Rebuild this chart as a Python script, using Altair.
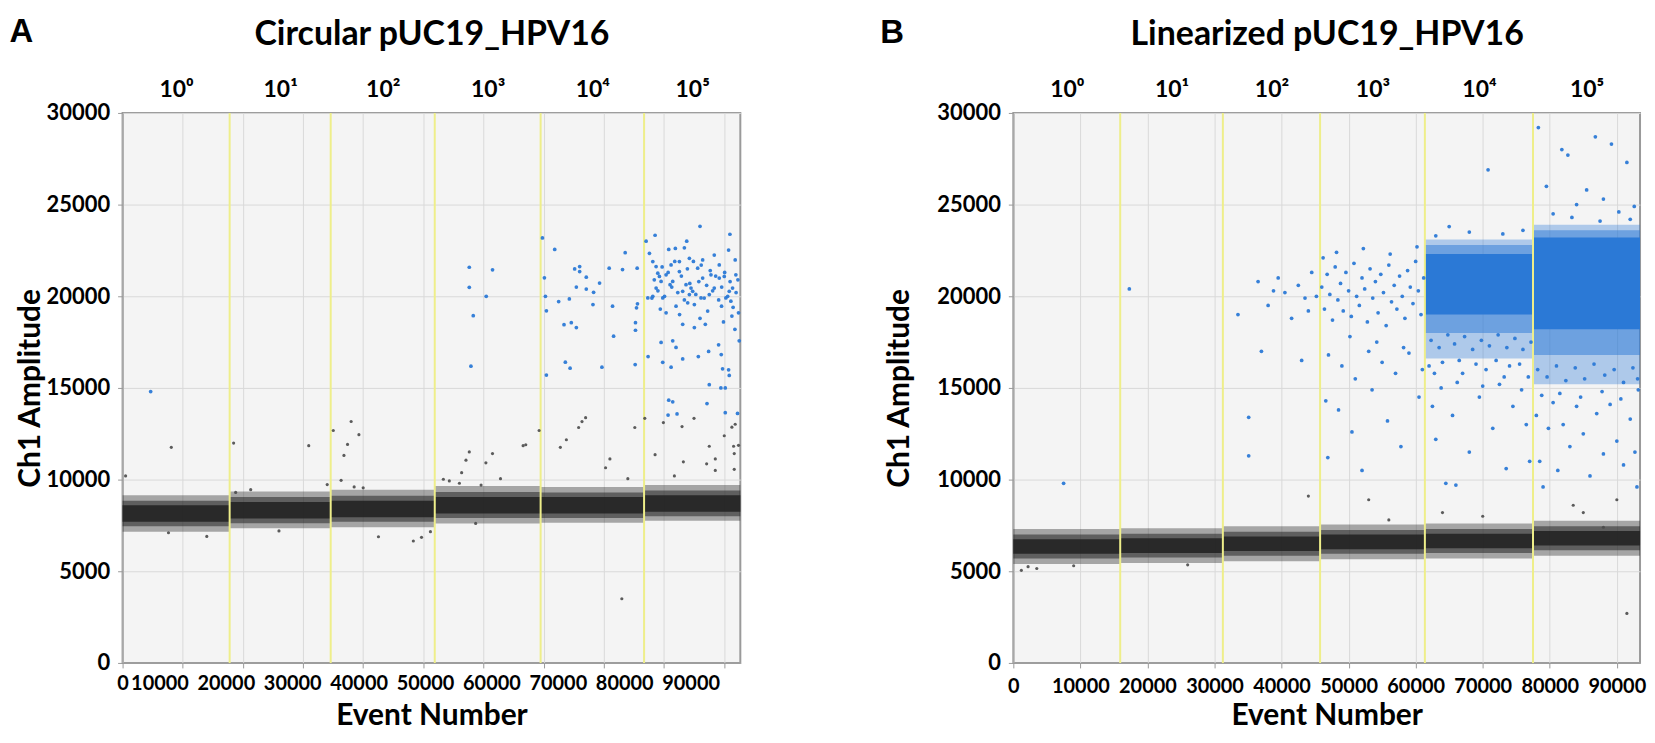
import altair as alt
import pandas as pd

FONT = "Lato"
LETTER_FONT = "Liberation Sans"
TOP_LABELS = ["10\u2070", "10\u00b9", "10\u00b2", "10\u00b3", "10\u2074", "10\u2075"]
Y_TICKS = [0, 5000, 10000, 15000, 20000, 25000, 30000]

# ---------------- Panel A : circular pUC19_HPV16 ----------------
A_WELL_BOUNDS = [0, 17800, 34600, 51900, 69500, 86700, 102700]
A_X_MAX = 102700
A_TOP_POS = [8900, 26200, 43250, 60700, 78100, 94700]
A_BOTTOM_LABELS = [10000, 20000, 30000, 40000, 50000, 60000, 70000, 80000, 90000]
A_BOTTOM_LABEL_DOMAIN = [4448, 97488]
A_NEG_HALO_LO = [7150, 7350, 7400, 7600, 7650, 7750]
A_NEG_HALO_HI = [9150, 9350, 9450, 9650, 9600, 9700]
A_NEG_MID_LO = [7450, 7620, 7700, 7900, 7900, 8000]
A_NEG_MID_HI = [8850, 9050, 9120, 9320, 9300, 9400]
A_NEG_CORE_LO = [7700, 7880, 7950, 8150, 8150, 8250]
A_NEG_CORE_HI = [8600, 8780, 8850, 9050, 9050, 9150]
A_GRAY = [
    (500, 10200), (8100, 11760), (7630, 7100), (18460, 11990), (30950, 11850),
    (35030, 12680), (38000, 13170), (39290, 12450), (37400, 11920), (36800, 11320),
    (36330, 9960), (34020, 9730), (42540, 6880), (48340, 6650), (49700, 6850),
    (51180, 7160), (58700, 7610), (18800, 9300), (21300, 9450), (38500, 9600),
    (40000, 9550), (14000, 6900), (26000, 7200), (56000, 9800), (59600, 9700),
    (57640, 11510), (57090, 11060), (56370, 10380), (53330, 10020), (54320, 9930),
    (60400, 10915), (61500, 11420), (62830, 10050), (66590, 11850), (67030, 11900),
    (69250, 12680), (72780, 11760), (73780, 12175), (75820, 12840), (76380, 13165),
    (76980, 13380), (80300, 10645), (81020, 11130), (84000, 10050), (85160, 12840),
    (86820, 13340), (88530, 11360), (89910, 13110), (93010, 12890), (93230, 10970),
    (91740, 10200), (95000, 13340), (97540, 11820), (97100, 10860), (98540, 11130),
    (98540, 10500), (100030, 12390), (101300, 12860), (101850, 13020), (101580, 11820),
    (101690, 11420), (101690, 10560), (102400, 11870), (83000, 3500),
]
A_BLUE = [
    (4670, 14800),
    (57640, 21583), (57640, 20486), (58300, 18939), (57915, 16186), (60457, 20000),
    (61507, 21440), (69800, 23185), (71842, 22555), (70130, 21008), (70300, 20000),
    (70460, 19209), (70460, 15700), (72500, 19712), (73390, 18453), (74275, 19856),
    (74600, 18561), (75440, 18291), (73610, 16402), (74400, 16078), (75160, 21494),
    (75990, 21620), (75990, 21350), (75440, 20504), (77090, 21044), (77090, 20396),
    (78310, 20216), (78200, 19550), (79300, 20720), (79690, 16133), (80900, 21530),
    (81460, 19460), (81630, 17824), (83120, 21458), (83560, 22375), (85550, 21530),
    (85220, 16276), (85270, 18561), (85270, 18147), (85440, 19370), (85600, 19587),
    (87040, 23005), (88530, 23328), (87370, 16708), (96000, 23814), (100970, 23383),
    (93790, 23005), (90800, 22555), (91900, 22609), (93400, 22645), (98370, 22249),
    (100750, 22519), (101850, 21980), (88700, 21620), (89250, 21080), (90360, 21170),
    (91460, 20810), (92570, 21350), (93670, 20630), (94500, 20450), (94780, 20270),
    (95610, 21530), (96440, 20990), (97540, 20090), (98370, 20450), (99200, 20990),
    (100300, 19910), (101130, 19730), (101410, 20450), (101960, 21170), (102400, 19100),
    (88700, 20450), (89800, 19910), (90360, 19100), (92010, 19460), (93120, 18470),
    (95060, 18290), (96880, 18470), (99580, 19460), (101300, 18920), (91460, 17570),
    (89530, 17480), (92010, 17210), (93120, 16580), (91190, 16130), (89800, 16400),
    (95720, 16710), (97430, 16990), (99090, 17350), (99530, 16820), (99750, 16040),
    (100750, 15990), (100860, 15680), (97540, 15180), (99470, 15000), (100200, 15000),
    (97160, 14150), (90800, 14330), (91460, 14240), (90690, 13520), (92180, 13580),
    (100200, 13650), (102240, 13610), (102520, 17570), (100860, 20270), (87590, 22340),
    (88150, 21890), (88980, 21260), (89530, 20810), (91020, 20630), (93120, 20270),
    (94230, 20090), (96160, 19910), (97820, 21170), (99200, 21710), (100030, 21080),
    (96440, 21980), (94230, 22070), (92570, 21890), (91190, 21710), (87320, 19910),
    (88150, 20000), (97270, 19190), (93950, 19640), (95060, 19550),
    (88400, 20900), (89000, 20300), (89700, 21600), (90100, 20000), (90700, 21300),
    (91300, 20500), (91800, 21900), (92300, 20200), (92900, 21100), (93400, 19800),
    (93900, 21500), (94300, 20700), (94900, 21900), (95300, 20100), (95800, 20800),
    (96200, 21700), (96700, 19900), (97100, 20600), (97700, 21400), (98100, 20300),
    (98600, 21100), (99100, 19800), (99600, 20500), (100100, 21300), (100600, 20000),
    (101000, 20800), (101500, 19400), (102000, 20200), (102300, 20900), (89400, 19300),
    (92600, 19000), (96000, 18800), (99900, 18600), (101800, 18200), (88000, 19900),
]

# ---------------- Panel B : linearized pUC19_HPV16 ----------------
B_WELL_BOUNDS = [0, 15940, 31250, 45750, 61375, 77500, 93460]
B_X_MAX = 93460
B_TOP_POS = [7970, 23600, 38500, 53560, 69440, 85480]
B_NEG_HALO_LO = [5400, 5450, 5550, 5650, 5700, 5850]
B_NEG_HALO_HI = [7300, 7350, 7450, 7550, 7600, 7750]
B_NEG_MID_LO = [5700, 5750, 5850, 5950, 6000, 6150]
B_NEG_MID_HI = [7000, 7050, 7150, 7250, 7300, 7450]
B_NEG_CORE_LO = [5950, 6000, 6100, 6200, 6250, 6400]
B_NEG_CORE_HI = [6750, 6800, 6900, 7000, 7050, 7200]
# dense positive clusters (wells 5 and 6)
B_POS_WELL = [5, 6]
B_POS_OUTER_LO = [16600, 15200]
B_POS_OUTER_HI = [23100, 23900]
B_POS_MID_LO = [18000, 16800]
B_POS_MID_HI = [22800, 23600]
B_POS_CORE_LO = [19000, 18200]
B_POS_CORE_HI = [22300, 23200]
B_GRAY = [
    (1200, 5050), (2200, 5250), (3500, 5150), (9000, 5300), (26000, 5350),
    (44000, 9100), (53000, 8900), (64000, 8200), (83500, 8600), (85000, 8200),
    (88000, 7400), (90000, 8900), (91500, 2700), (70000, 8000), (56000, 7800),
]
B_BLUE = [
    (7500, 9800), (17300, 20400),
    (35100, 13400), (35100, 11300), (33500, 19000), (36500, 20800), (38000, 19500),
    (39500, 21000), (40500, 20200), (41500, 18800), (42500, 20600), (43500, 19900),
    (44500, 21300), (45200, 20000), (37000, 17000), (43000, 16500), (44000, 19200),
    (38800, 20300),
    (46000, 20500), (46400, 19300), (46800, 21200), (47200, 20100), (47600, 18700),
    (48000, 21600), (48400, 19800), (48800, 20700), (49200, 19200), (49600, 21300),
    (50000, 20300), (50400, 18900), (50800, 21800), (51200, 20000), (51600, 19500),
    (52000, 21000), (52400, 20400), (52800, 18600), (53200, 21500), (53600, 19900),
    (54000, 20800), (54400, 19100), (54800, 21200), (55200, 20200), (55600, 18400),
    (56000, 21700), (56400, 19700), (56800, 20600), (57200, 19300), (57600, 21100),
    (58000, 20000), (58400, 18800), (58800, 21400), (59200, 20500), (59600, 19600),
    (60000, 21900), (60400, 20300), (60800, 19000), (61200, 21000),
    (46200, 22100), (48200, 22400), (50200, 17800), (52200, 22600), (54200, 17500),
    (56200, 22300), (58200, 17200), (60200, 22700), (47000, 16800), (49000, 16200),
    (51000, 15500), (53000, 17000), (55000, 16400), (57000, 15800), (59000, 16900),
    (61000, 16000), (46600, 14300), (46900, 11200), (48500, 13800), (50500, 12600),
    (53500, 14900), (55800, 13200), (57800, 11800), (60500, 14500), (52000, 10500),
    (65000, 23800), (70800, 26900), (68000, 23500), (73000, 23400), (63000, 23300),
    (76000, 23600), (62000, 16200), (62500, 14000), (63000, 12200), (63800, 15000),
    (64500, 9800), (65500, 13500), (66000, 9700), (67000, 15800), (68000, 11500),
    (69500, 14500), (70500, 16000), (71500, 12800), (72500, 15200), (73500, 10600),
    (74500, 14000), (75500, 16300), (76500, 13000), (77000, 11000), (64000, 16400),
    (66500, 16500), (69000, 16300), (72000, 16500), (74000, 16200), (76800, 15600),
    (62300, 17600), (63500, 17200), (64800, 17900), (65800, 17400), (67300, 17800),
    (68500, 17100), (69800, 17600), (71000, 17300), (72300, 17900), (73600, 17200),
    (74800, 17700), (76000, 17100), (77200, 17500), (62800, 15800), (66200, 15300),
    (70000, 15100), (73200, 15600), (75800, 14900),
    (78300, 29200), (80500, 24500), (81800, 28000), (82700, 27700), (84000, 25000),
    (85500, 25800), (86800, 28700), (88000, 25300), (89200, 28300), (90300, 24600),
    (91500, 27300), (92600, 24900), (79500, 26000), (83300, 24300), (87500, 24100),
    (92000, 24200), (78000, 13500), (78500, 11000), (79000, 9600), (79800, 12800),
    (80500, 14200), (81200, 10500), (82000, 13000), (83000, 11800), (84000, 14000),
    (85000, 12500), (86000, 10200), (87000, 13600), (88000, 11400), (89000, 14100),
    (90000, 12100), (91000, 10800), (92000, 13300), (93000, 9600), (92700, 11500),
    (78800, 14600), (81500, 14700), (84600, 14500), (87800, 14800), (90600, 14400),
    (93200, 14900), (78200, 16000), (79600, 15600), (81000, 16200), (82400, 15400),
    (83800, 16100), (85200, 15500), (86600, 16300), (88200, 15700), (89600, 16000),
    (91000, 15300), (92400, 16100), (93100, 15500),
]

GRID = "#d9d9d9"
BORDER = "#9a9a9a"
BLUE = "#2b79d6"
GRAY_PT = "#4a4a4a"
BAND = "#262626"


def top_label_expr(positions):
    expr = "''"
    for p, lab in reversed(list(zip(positions, TOP_LABELS))):
        expr = f"round(datum.value) == {p} ? '{lab}' : ({expr})"
    return expr


def make_panel(bounds, x_max, halo, mid, core, gray, blue, pos, top_pos, title,
               letter, width, height, misaligned_labels, ytitle_x, title_y,
               letter_x, letter_y, label_pad):
    xs = alt.Scale(domain=[0, x_max], nice=False, zero=False)
    ys = alt.Scale(domain=[0, 30000], nice=False, zero=True)
    common = dict(
        format="d", grid=True, gridColor=GRID, gridWidth=1, ticks=True, tickSize=5,
        tickColor=BORDER, domainColor=BORDER, labelPadding=label_pad, labelFontSize=20,
        labelOverlap=False, labelFlush=False, title="Event Number", titleFontSize=30,
        titleY=53, titleBaseline="middle", titleLimit=900)
    if misaligned_labels:
        x_axis = alt.Axis(values=list(range(0, 100001, 10000)),
                          labelExpr="datum.value == 0 ? '0' : ''", **common)
    else:
        x_axis = alt.Axis(values=list(range(0, 90001, 10000)), **common)
    y_axis = alt.Axis(
        values=Y_TICKS, format="d", grid=True, gridColor=GRID, gridWidth=1, tickSize=5,
        tickColor=BORDER, domainColor=BORDER, labelPadding=8, labelFontSize=22,
        labelOverlap=False, title="Ch1 Amplitude", titleFontSize=30, titleX=ytitle_x,
        titleBaseline="middle", titleLimit=900)

    wells = pd.DataFrame({
        "start": bounds[:-1], "end": bounds[1:],
        "halo_lo": halo[0], "halo_hi": halo[1],
        "mid_lo": mid[0], "mid_hi": mid[1],
        "core_lo": core[0], "core_hi": core[1],
    })

    def band(lo, hi, color, opacity, data):
        return alt.Chart(data).mark_rect(color=color, opacity=opacity).encode(
            x=alt.X("start:Q", scale=xs, axis=x_axis), x2="end:Q",
            y=alt.Y(f"{lo}:Q", scale=ys, axis=y_axis), y2=f"{hi}:Q")

    layers = [
        band("halo_lo", "halo_hi", BAND, 0.38, wells),
        band("mid_lo", "mid_hi", BAND, 0.55, wells),
        band("core_lo", "core_hi", BAND, 0.95, wells),
    ]
    if pos is not None:
        pw, olo, ohi, mlo, mhi, clo, chi = pos
        pos_df = pd.DataFrame({
            "start": [bounds[w - 1] for w in pw], "end": [bounds[w] for w in pw],
            "olo": olo, "ohi": ohi, "mlo": mlo, "mhi": mhi, "clo": clo, "chi": chi})
        layers.append(band("olo", "ohi", BLUE, 0.35, pos_df))
        layers.append(band("mlo", "mhi", BLUE, 0.5, pos_df))
        layers.append(band("clo", "chi", BLUE, 1.0, pos_df))

    rules = pd.DataFrame({"pos": bounds[1:-1]})
    layers.append(alt.Chart(rules).mark_rule(color="#eeee8a", strokeWidth=2).encode(
        x=alt.X("pos:Q", scale=xs, axis=x_axis)))
    gdf = pd.DataFrame(gray, columns=["x", "y"])
    layers.append(alt.Chart(gdf).mark_circle(color=GRAY_PT, size=10, opacity=0.9).encode(
        x=alt.X("x:Q", scale=xs, axis=x_axis), y=alt.Y("y:Q", scale=ys, axis=y_axis)))
    bdf = pd.DataFrame(blue, columns=["x", "y"])
    layers.append(alt.Chart(bdf).mark_circle(color=BLUE, size=14, opacity=0.95).encode(
        x=alt.X("x:Q", scale=xs, axis=x_axis), y=alt.Y("y:Q", scale=ys, axis=y_axis)))

    main = alt.layer(*layers)
    extra = []
    if misaligned_labels:
        ldf = pd.DataFrame({"v": A_BOTTOM_LABELS})
        extra.append(alt.Chart(ldf).mark_point(opacity=0).encode(
            x=alt.X("v:Q", scale=alt.Scale(domain=A_BOTTOM_LABEL_DOMAIN, nice=False, zero=False),
                    axis=alt.Axis(orient="bottom", values=A_BOTTOM_LABELS, format="d",
                                  domain=False, ticks=False, tickSize=0, grid=False,
                                  labelPadding=11, labelFontSize=20, labelOverlap=False,
                                  labelFlush=False, title=None)),
            y=alt.value(0)))
    tdf = pd.DataFrame({"v": top_pos})
    extra.append(alt.Chart(tdf).mark_point(opacity=0).encode(
        x=alt.X("v:Q", scale=alt.Scale(domain=[0, x_max], nice=False, zero=False),
                axis=alt.Axis(orient="top", values=top_pos, labelExpr=top_label_expr(top_pos),
                              domain=False, ticks=False, tickSize=0, grid=False,
                              labelPadding=12, labelFontSize=23, labelOverlap=False,
                              labelFlush=False, title=title, titleFontSize=34,
                              titleY=title_y, titleBaseline="middle", titleLimit=900)),
        y=alt.value(0)))
    ltr = pd.DataFrame({"v": [0]})
    extra.append(alt.Chart(ltr).mark_point(opacity=0).encode(
        x=alt.X("v:Q", scale=alt.Scale(domain=[0, 1]),
                axis=alt.Axis(orient="top", labels=False, ticks=False, domain=False,
                              grid=False, title=letter, titleX=letter_x, titleY=letter_y,
                              titleAlign="left", titleBaseline="middle",
                              titleFont=LETTER_FONT, titleFontSize=33, titleAngle=0)),
        y=alt.value(0)))
    return alt.layer(main, *extra).resolve_scale(x="independent").resolve_axis(
        x="independent").properties(width=width, height=height)


panel_a = make_panel(
    A_WELL_BOUNDS, A_X_MAX, (A_NEG_HALO_LO, A_NEG_HALO_HI), (A_NEG_MID_LO, A_NEG_MID_HI),
    (A_NEG_CORE_LO, A_NEG_CORE_HI), A_GRAY, A_BLUE, None, A_TOP_POS,
    "Circular pUC19_HPV16", "A", 620, 552, True, -92, -79, -114, -82, 6)
panel_b = make_panel(
    B_WELL_BOUNDS, B_X_MAX, (B_NEG_HALO_LO, B_NEG_HALO_HI), (B_NEG_MID_LO, B_NEG_MID_HI),
    (B_NEG_CORE_LO, B_NEG_CORE_HI), B_GRAY, B_BLUE,
    (B_POS_WELL, B_POS_OUTER_LO, B_POS_OUTER_HI, B_POS_MID_LO, B_POS_MID_HI,
     B_POS_CORE_LO, B_POS_CORE_HI),
    B_TOP_POS, "Linearized pUC19_HPV16", "B", 629, 552, False, -114, -79, -134, -81, 9)

chart = alt.hconcat(panel_a, panel_b, spacing=137).properties(
    padding={"top": 5, "left": 0, "right": 0, "bottom": 0}).configure_view(
    fill="#f4f4f4", stroke=BORDER, strokeWidth=2).configure_axis(
    labelFont=FONT, labelFontWeight="bold", labelColor="black", titleFont=FONT,
    titleFontWeight="bold", titleColor="black")

chart.save("out.html", embed_options={"renderer": "svg", "actions": False})
